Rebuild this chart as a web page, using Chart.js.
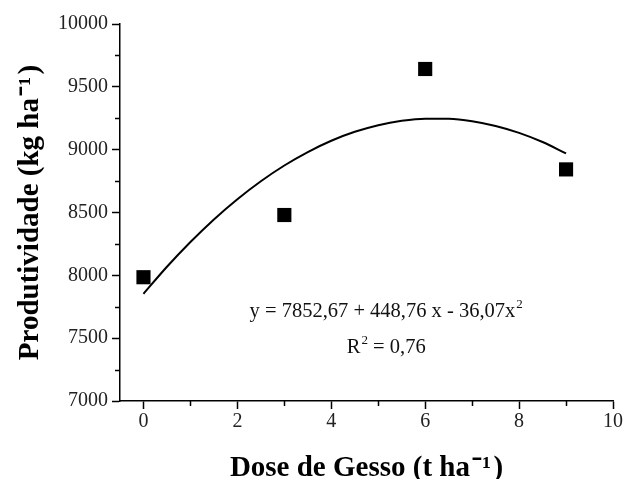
<!DOCTYPE html>
<html><head><meta charset="utf-8">
<script src="https://cdn.jsdelivr.net/npm/chart.js@4"></script>
<style>html,body{margin:0;padding:0;background:#fff}#wrap{width:626px;height:479px;position:relative}</style>
</head><body><div id="wrap"><canvas id="c" width="626" height="479"></canvas></div>
<script>
const doses = [0, 3, 6, 9];
const yields = [7985, 8480, 9642, 8843];
// Fitted curve values
const fitX = [0, 0.5, 1, 1.5, 2, 2.5, 3, 3.5, 4, 4.5, 5, 5.5, 6, 6.5, 7, 7.5, 8, 8.5, 9];
const fitY = [7853, 8068, 8265, 8445, 8606, 8749, 8874, 8981, 9071, 9142, 9195, 9230, 9247, 9246, 9227, 9189, 9134, 9061, 8970];
const xTicks = [0, 1, 2, 3, 4, 5, 6, 7, 8, 9, 10];
const yTicks = [7000, 7250, 7500, 7750, 8000, 8250, 8500, 8750, 9000, 9250, 9500, 9750, 10000];
const xTitle = 'Dose de Gesso (t ha\u200A\u207B\u00B9\u200A)';
const yTitle = 'Produtividade (kg ha\u200A\u207B\u00B9\u200A)';
const eqText = 'y = 7852,67 + 448,76 x - 36,07x';
const eqSup = '2';
const r2Text = 'R';
const r2Sup = '2';
const r2Rest = ' = 0,76';

const SERIF = '"Liberation Serif", "Times New Roman", serif';
const EQ_SIZE = 20.5;
const SUP_SIZE = 13;

const minorTicks = {
  id: 'minorTicks',
  afterDraw(chart) {
    const {ctx, chartArea, scales} = chart;
    ctx.save();
    ctx.strokeStyle = '#000';
    ctx.lineWidth = 1.5;
    ctx.beginPath();
    xTicks.filter(v => v % 2 !== 0).forEach(v => {
      const px = Math.round(scales.x.getPixelForValue(v)) + 0.5;
      ctx.moveTo(px, chartArea.bottom);
      ctx.lineTo(px, chartArea.bottom + 5);
    });
    yTicks.filter(v => v % 500 !== 0).forEach(v => {
      const py = Math.round(scales.y.getPixelForValue(v)) + 0.5;
      ctx.moveTo(chartArea.left - 5, py);
      ctx.lineTo(chartArea.left, py);
    });
    ctx.stroke();
    // equation text, centred
    ctx.fillStyle = '#111';
    ctx.textBaseline = 'alphabetic';
    ctx.textAlign = 'left';
    const cx = scales.x.getPixelForValue(5.17);
    const fMain = EQ_SIZE + 'px ' + SERIF;
    const fSup = SUP_SIZE + 'px ' + SERIF;
    // line 1
    ctx.font = fMain;
    const w = ctx.measureText(eqText).width;
    ctx.font = fSup;
    const ws = ctx.measureText(eqSup).width;
    let x0 = cx - (w + ws + 1) / 2;
    let y0 = scales.y.getPixelForValue(7672);
    ctx.font = fMain;
    ctx.fillText(eqText, x0, y0);
    ctx.font = fSup;
    ctx.fillText(eqSup, x0 + w + 1, y0 - 9);
    // line 2
    ctx.font = fMain;
    const w1 = ctx.measureText(r2Text).width;
    const w3 = ctx.measureText(r2Rest).width;
    ctx.font = fSup;
    const w2 = ctx.measureText(r2Sup).width;
    let x1 = cx - (w1 + w2 + w3 + 1) / 2;
    let y1 = scales.y.getPixelForValue(7383);
    ctx.font = fMain;
    ctx.fillText(r2Text, x1, y1);
    ctx.font = fSup;
    ctx.fillText(r2Sup, x1 + w1 + 1, y1 - 9);
    ctx.font = fMain;
    ctx.fillText(r2Rest, x1 + w1 + w2 + 1, y1);
    ctx.restore();
  }
};

new Chart(document.getElementById('c'), {
  type: 'scatter',
  data: {
    datasets: [
      {
        label: 'Observado',
        data: doses.map((d, i) => ({x: d, y: yields[i]})),
        pointStyle: 'rect',
        pointRadius: 10,
        pointHoverRadius: 10,
        backgroundColor: '#000',
        borderWidth: 0,
        showLine: false,
        order: 1
      },
      {
        label: 'Ajuste',
        data: fitX.map((d, i) => ({x: d, y: fitY[i]})),
        showLine: true,
        pointRadius: 0,
        borderColor: '#000',
        borderWidth: 2,
        tension: 0.4,
        cubicInterpolationMode: 'monotone',
        fill: false,
        order: 2
      }
    ]
  },
  options: {
    responsive: false,
    animation: false,
    devicePixelRatio: 1,
    layout: {padding: {top: 24, right: 13, left: 0, bottom: 0}},
    plugins: {legend: {display: false}, tooltip: {enabled: false}},
    scales: {
      x: {
        type: 'linear',
        min: -0.5,
        max: 10,
        afterBuildTicks: s => { s.ticks = xTicks.map(v => ({value: v})); },
        afterFit: s => { s.height = 78; },
        border: {display: true, color: '#000', width: 1.5},
        grid: {
          drawOnChartArea: false,
          drawTicks: true,
          tickLength: 8,
          tickWidth: 1.5,
          tickColor: c => (c.tick && c.tick.value % 2 === 0) ? '#000' : 'rgba(0,0,0,0)'
        },
        ticks: {
          autoSkip: false,
          maxRotation: 0,
          padding: 1,
          color: '#222',
          font: {family: SERIF, size: 20},
          callback: v => (v % 2 === 0 ? String(v) : '')
        },
        title: {
          display: true,
          text: xTitle,
          color: '#000',
          font: {family: SERIF, size: 29, weight: 'bold', lineHeight: 1},
          padding: {top: 0, bottom: -4}
        }
      },
      y: {
        type: 'linear',
        min: 7000,
        max: 10000,
        afterBuildTicks: s => { s.ticks = yTicks.map(v => ({value: v})); },
        afterFit: s => { s.width = 120; },
        border: {display: true, color: '#000', width: 1.5},
        grid: {
          drawOnChartArea: false,
          drawTicks: true,
          tickLength: 8,
          tickWidth: 1.5,
          tickColor: c => (c.tick && c.tick.value % 500 === 0) ? '#000' : 'rgba(0,0,0,0)'
        },
        ticks: {
          autoSkip: false,
          padding: 4,
          color: '#222',
          font: {family: SERIF, size: 20},
          callback: v => (v % 500 === 0 ? String(v) : '')
        },
        title: {
          display: true,
          text: yTitle,
          color: '#000',
          font: {family: SERIF, size: 29, weight: 'bold', lineHeight: 1},
          padding: {top: 16, bottom: 0}
        }
      }
    }
  },
  plugins: [minorTicks]
});
</script>
</body></html>
